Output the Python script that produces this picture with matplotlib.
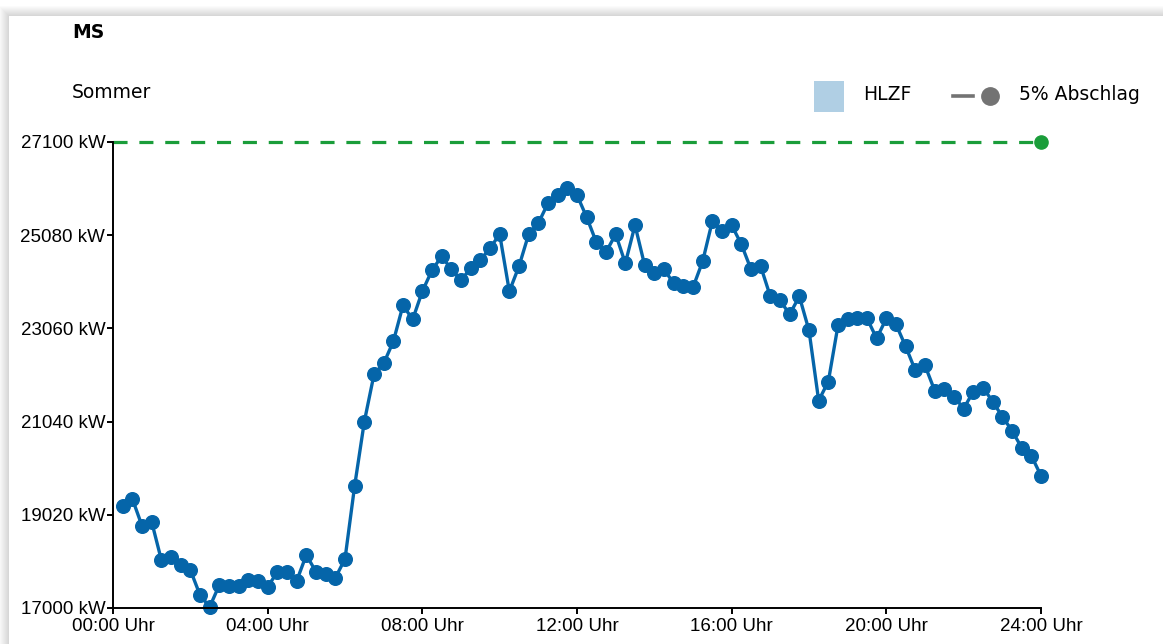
import matplotlib
matplotlib.use("Agg")
import matplotlib.pyplot as plt
import numpy as np
from matplotlib.patches import Rectangle, Circle
from matplotlib.lines import Line2D

W, H = 1163, 644

# load curve, 15-minute values from 00:15 to 24:00 (kW)
load_kw = [
    19215, 19367, 18781, 18868, 18043, 18108, 17934, 17825,
    17282, 17022, 17500, 17478, 17478, 17608, 17586, 17456,
    17782, 17782, 17586, 18151, 17782, 17738, 17652, 18064,
    19650, 21040, 22061, 22300, 22778, 23559, 23255, 23864,
    24320, 24624, 24341, 24102, 24363, 24537, 24797, 25102,
    23864, 24407, 25102, 25340, 25775, 25949, 26101, 25949,
    25471, 24928, 24711, 25102, 24472, 25297, 24428, 24254,
    24341, 24037, 23972, 23950, 24515, 25384, 25167, 25297,
    24884, 24341, 24407, 23755, 23668, 23364, 23755, 23016,
    21496, 21909, 23125, 23255, 23277, 23277, 22843, 23277,
    23147, 22669, 22148, 22256, 21713, 21757, 21583, 21322,
    21692, 21778, 21474, 21149, 20844, 20475, 20301, 19867,
]
hours = [0.25 * (i + 1) for i in range(len(load_kw))]

limit_kw = 27100
y_ticks = [17000, 19020, 21040, 23060, 25080, 27100]
x_ticks = [0, 4, 8, 12, 16, 20, 24]
x_labels = ["00:00 Uhr", "04:00 Uhr", "08:00 Uhr", "12:00 Uhr",
            "16:00 Uhr", "20:00 Uhr", "24:00 Uhr"]

BLUE = "#0565a9"
GREEN = "#1a9d3a"

fig = plt.figure(figsize=(W / 100, H / 100), dpi=100)
fig.patch.set_facecolor("white")

# card with soft shadow
cx, cy = 9, 16
for k in range(10, 0, -1):
    fig.add_artist(Rectangle(((cx - k) / W, -0.1), 1.2, (H - cy + k) / H + 0.1,
                             transform=fig.transFigure, facecolor="black",
                             alpha=0.014, edgecolor="none", zorder=0))
fig.add_artist(Rectangle((cx / W, -0.1), 1.2, (H - cy) / H + 0.1,
                         transform=fig.transFigure, facecolor="white",
                         edgecolor="none", zorder=0.5))

ax = fig.add_axes([113 / W, 1 - 608 / H, (1041 - 113) / W, (608 - 142) / H])
ax.set_facecolor("none")
ax.set_zorder(2)

ax.plot([0, 24], [limit_kw, limit_kw], color=GREEN, lw=2.3,
        ls=(0, (4.4, 3.7)), clip_on=False)
ax.plot([24], [limit_kw], "o", color=GREEN, ms=9.5, clip_on=False)
ax.plot(hours, load_kw, "-o", color=BLUE, lw=2.4, ms=9.8, clip_on=False)

ax.set_xlim(0, 24)
ax.set_ylim(17000, 27100)
ax.set_xticks(x_ticks)
ax.set_xticklabels(x_labels)
ax.set_yticks(y_ticks)
ax.set_yticklabels([f"{v} kW" for v in y_ticks])
for s in ["top", "right"]:
    ax.spines[s].set_visible(False)
for s in ["left", "bottom"]:
    ax.spines[s].set_linewidth(1.4)
ax.tick_params(length=4.5, width=1.4, labelsize=13.5)
ax.tick_params(axis="y", pad=1)
ax.tick_params(axis="x", pad=3)
for lab in ax.get_xticklabels() + ax.get_yticklabels():
    lab.set_family("Liberation Sans")

# header texts
fig.text(72 / W, 1 - 33 / H, "MS", fontsize=13.5, fontweight="bold",
         family="DejaVu Sans", va="center", ha="left")
fig.text(72 / W, 1 - 93 / H, "Sommer", fontsize=13.5,
         family="DejaVu Sans", va="center", ha="left")

# legend
fig.add_artist(Rectangle((814 / W, 1 - 112 / H), 30 / W, 31 / H,
                         transform=fig.transFigure, facecolor="#b0cfe4",
                         edgecolor="none", zorder=3))
fig.text(863 / W, 1 - 95 / H, "HLZF", fontsize=13.5, family="DejaVu Sans",
         va="center", ha="left")
fig.add_artist(Line2D([953 / W, 973 / W], [1 - 96 / H, 1 - 96 / H],
                      transform=fig.transFigure, color="#737373", lw=2.6,
                      zorder=3))
fig.add_artist(Line2D([990 / W], [1 - 96 / H], transform=fig.transFigure,
                      marker="o", ms=12.5, color="#737373", lw=0, zorder=3))
fig.text(1019 / W, 1 - 95 / H, "5% Abschlag", fontsize=13.5,
         family="DejaVu Sans", va="center", ha="left")

fig.savefig("out.png", dpi=100)
